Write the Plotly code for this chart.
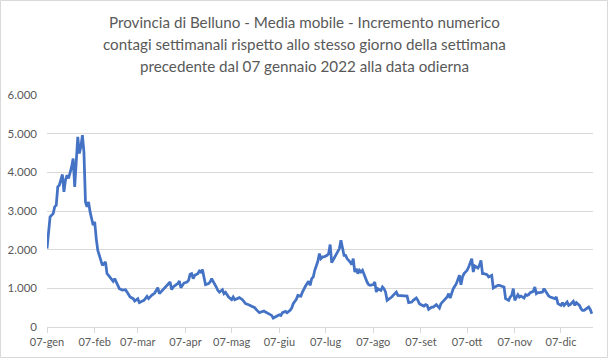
import pandas as pd
import plotly.graph_objects as go

# Days since 07 Jan 2022 and moving-average values
day_offset = [0, 2, 4, 5, 6, 7, 8, 9, 10, 11, 12, 13, 14, 16, 17, 18, 19, 20, 21, 22, 23, 24, 25, 26, 27, 28, 30, 31, 32, 33,
              35, 36, 38, 39, 40, 42, 43, 44, 46, 47, 49, 51, 52, 54, 56, 57, 59, 60, 62, 63, 65, 66, 68, 70, 71, 72, 73, 75, 77, 79,
              80, 81, 82, 84, 85, 86, 87, 89, 91, 92, 93, 94, 95, 96, 98, 99, 100, 101, 102, 103, 105, 106, 107, 108, 110, 111, 112, 114, 115, 116,
              118, 120, 121, 122, 124, 125, 127, 128, 129, 131, 133, 135, 136, 138, 139, 141, 142, 144, 146, 147, 149, 151, 152, 153, 155, 156, 158, 159, 160, 162,
              163, 165, 166, 167, 168, 170, 171, 172, 173, 174, 175, 176, 177, 178, 179, 180, 182, 183, 184, 185, 187, 188, 189, 190, 191, 193, 194, 195, 197, 198,
              199, 200, 201, 202, 203, 204, 205, 207, 208, 209, 210, 212, 213, 214, 215, 217, 218, 219, 220, 221, 223, 224, 226, 227, 228, 230, 231, 233, 234, 235,
              237, 238, 240, 241, 242, 244, 245, 246, 247, 248, 250, 251, 253, 254, 255, 256, 257, 258, 260, 261, 262, 263, 264, 266, 267, 268, 269, 270, 271, 273,
              274, 275, 276, 277, 278, 280, 281, 282, 283, 284, 286, 287, 289, 290, 291, 293, 294, 296, 297, 298, 300, 301, 302, 303, 304, 306, 307, 308, 310, 311,
              312, 313, 314, 316, 317, 318, 319, 320, 322, 323, 325, 326, 327, 329, 330, 331, 332, 334, 335, 336, 338, 339, 340, 342, 343, 344, 346, 347, 348, 349,
              351, 352, 353, 354]
media_mobile = [2030, 2846, 2934, 3106, 3150, 3624, 3667, 3840, 3944, 3494, 3797, 3926, 3840, 4141, 4359, 3624, 4271, 4918, 4488, 4659, 4962, 4530, 3235, 3105, 3235, 2976, 2631, 2717, 2287, 1984,
                1725, 1595, 1681, 1380, 1336, 1233, 1181, 1251, 1059, 991, 956, 966, 904, 775, 733, 671, 733, 629, 671, 689, 793, 733, 818, 878, 948, 1018, 862, 948, 1034, 1121,
                1163, 966, 1034, 1095, 1121, 1189, 1018, 1137, 1163, 1207, 1362, 1380, 1251, 1336, 1380, 1448, 1422, 1484, 1292, 1095, 1121, 1163, 1251, 1189, 1034, 948, 904, 966, 862, 896,
                775, 707, 775, 707, 733, 759, 707, 645, 603, 577, 534, 500, 448, 370, 387, 412, 387, 344, 300, 231, 283, 318, 300, 370, 404, 370, 430, 490, 603, 715,
                818, 800, 904, 991, 1059, 1181, 1077, 1251, 1292, 1466, 1595, 1699, 1898, 1769, 1811, 1811, 1854, 1898, 2131, 1665, 1811, 1898, 1958, 2028, 2243, 1854, 1854, 1769, 1681, 1614,
                1769, 1422, 1510, 1380, 1466, 1422, 1466, 1251, 1163, 1095, 1077, 1095, 1163, 904, 991, 948, 1034, 991, 904, 689, 733, 775, 862, 904, 818, 818, 800, 800, 800, 629,
                645, 689, 749, 689, 603, 559, 542, 577, 559, 456, 516, 516, 577, 534, 490, 603, 663, 689, 775, 862, 749, 904, 991, 1121, 1251, 1336, 1095, 1292, 1380, 1466,
                1551, 1639, 1769, 1422, 1577, 1526, 1595, 1725, 1380, 1380, 1354, 1293, 1336, 1008, 1034, 1077, 1077, 1059, 1034, 733, 689, 775, 818, 991, 689, 836, 775, 800, 749, 836,
                818, 836, 888, 922, 1034, 862, 888, 888, 904, 991, 862, 800, 775, 733, 733, 775, 603, 559, 629, 559, 645, 559, 577, 663, 559, 629, 559, 474, 430, 430,
                474, 516, 456, 344]

x_tick_dates = ["2022-01-07", "2022-02-07", "2022-03-07", "2022-04-07", "2022-05-07", "2022-06-07",
                "2022-07-07", "2022-08-07", "2022-09-07", "2022-10-07", "2022-11-07", "2022-12-07"]
x_tick_labels = ["07-gen", "07-feb", "07-mar", "07-apr", "07-mag", "07-giu",
                 "07-lug", "07-ago", "07-set", "07-ott", "07-nov", "07-dic"]
y_tick_vals = [0, 1000, 2000, 3000, 4000, 5000, 6000]
y_tick_labels = ["0", "1.000", "2.000", "3.000", "4.000", "5.000", "6.000"]

title_lines = ["Provincia di Belluno - Media mobile - Incremento numerico",
               "contagi settimanali rispetto allo stesso giorno della settimana",
               "precedente dal 07 gennaio 2022 alla data odierna"]

start = pd.Timestamp("2022-01-07")
dates = [start + pd.Timedelta(days=d) for d in day_offset]

W, H = 608, 358
ML, MR, MT, MB = 47, 15, 95, 31
PW, PH = W - ML - MR, H - MT - MB

fig = go.Figure()
fig.add_trace(go.Scatter(
    x=dates, y=media_mobile, mode="lines",
    line=dict(color="#4472C4", width=2.75, shape="linear"),
    hoverinfo="x+y", showlegend=False,
))

fig.update_layout(
    width=W, height=H,
    margin=dict(l=ML, r=MR, t=MT, b=MB, autoexpand=False),
    paper_bgcolor="white", plot_bgcolor="white",
    font=dict(family="Lato, Calibri, sans-serif", color="#595959"),
    xaxis=dict(
        type="date", automargin=False,
        range=[start, start + pd.Timedelta(hours=354.8 * 24)],
        tickmode="array", tickvals=x_tick_dates, ticktext=x_tick_labels,
        showgrid=False, showline=True, linecolor="#d9d9d9", linewidth=1,
        ticks="outside", ticklen=5, tickcolor="#d9d9d9",
        tickfont=dict(size=11, color="#595959"), zeroline=False,
    ),
    yaxis=dict(
        range=[0, 6000], automargin=False,
        tickmode="array", tickvals=y_tick_vals, ticktext=y_tick_labels,
        showgrid=True, gridcolor="#d9d9d9", gridwidth=1, zeroline=False,
        showline=False, ticks="", ticklabelstandoff=9,
        tickfont=dict(size=11.5, color="#595959"),
    ),
)

# title lines as separate annotations to control line spacing
for i, line in enumerate(title_lines):
    yc = 22 + 22 * i  # pixel centre from top
    fig.add_annotation(text=line, xref="paper", yref="paper",
                       x=(304 - ML) / PW, y=(H - MB - yc) / PH,
                       xanchor="center", yanchor="middle", showarrow=False,
                       font=dict(size=15.2, color="#595959", family="Lato, Calibri, sans-serif"))

fig.add_shape(type="rect", xref="paper", yref="paper",
              x0=(0.5 - ML) / PW, x1=(W - 0.5 - ML) / PW,
              y0=(H - MB - (H - 0.5)) / PH, y1=(H - MB - 0.5) / PH,
              line=dict(color="#d9d9d9", width=1), layer="below")

fig.write_html("out.html", config={"displayModeBar": False},
               post_script="document.body.style.margin='0px';")
